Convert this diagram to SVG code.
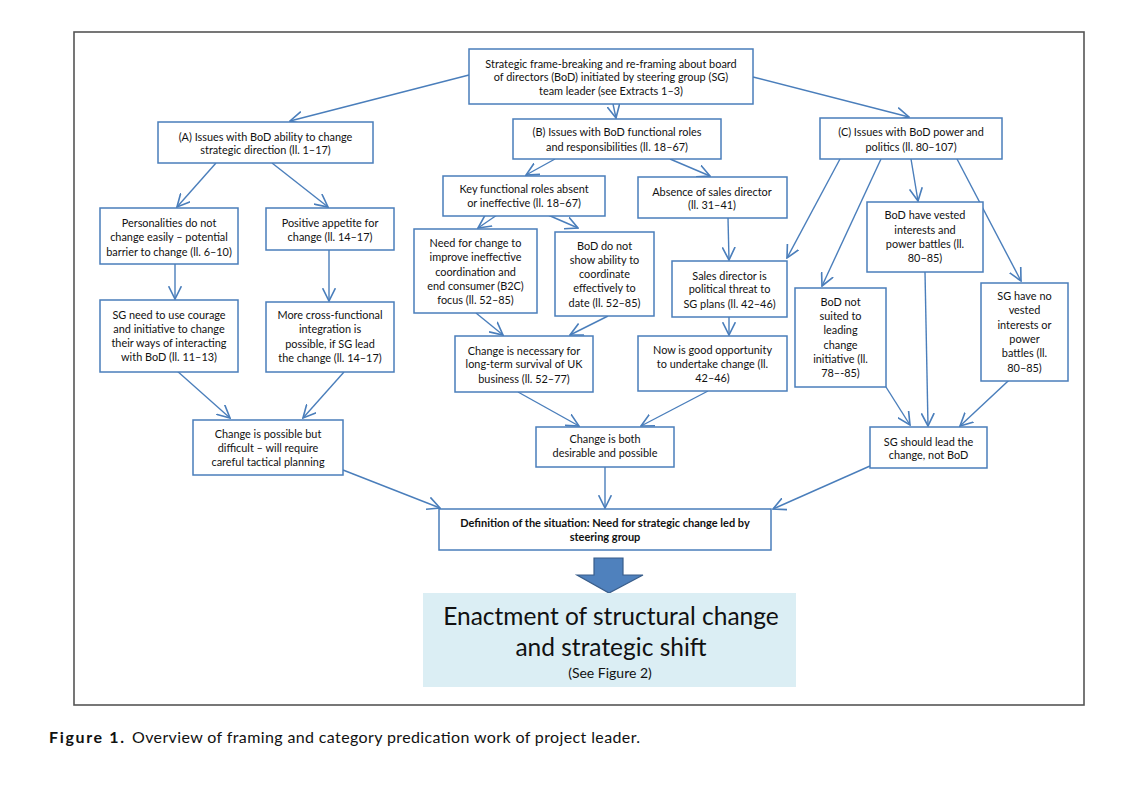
<svg xmlns="http://www.w3.org/2000/svg" width="1121" height="807" viewBox="0 0 1121 807">
<style>
.b{fill:#fff;stroke:#4a7ebb;stroke-width:1.5}
.t{font-family:Lato,"Open Sans","Liberation Sans",sans-serif;font-size:10.9px;fill:#111;text-anchor:middle}
.bd{font-weight:bold;font-size:11px}
.c path{fill:none;stroke:#4a7ebb;stroke-width:1.4;marker-end:url(#ah)}
.cap{font-family:Lato,"Liberation Sans",sans-serif;font-size:16px;fill:#111}
</style>
<defs>
<marker id="ah" markerUnits="userSpaceOnUse" markerWidth="14" markerHeight="14" viewBox="0 0 12 12" refX="11" refY="6" orient="auto">
<path d="M0,0.5 L11,6 L0,11.5" fill="none" stroke="#4a7ebb" stroke-width="1.4"/>
</marker>
</defs>
<rect width="1121" height="807" fill="#fff"/>
<rect x="74" y="32" width="1010" height="673" fill="none" stroke="#555" stroke-width="1.6"/>

<g class="c" id="connectors">
<path d="M469,75 L290,121"/>
<path d="M613,104 L616,118"/>
<path d="M753,77 L909,117"/>
<path d="M216,163 L177,207"/>
<path d="M272,163 L328,207"/>
<path d="M175,264 L175,299"/>
<path d="M329,250 L329,301"/>
<path d="M176,370 L230,418"/>
<path d="M344,372 L303,418"/>
<path d="M555,159 L526,175"/>
<path d="M670,159 L710,176"/>
<path d="M497,215 L478,228"/>
<path d="M548,215 L578,228"/>
<path d="M476,313 L503,335"/>
<path d="M608,316 L570,335"/>
<path d="M728,218 L729,260"/>
<path d="M729,317 L729,335"/>
<path d="M840,159 L787,258"/>
<path d="M881,159 L822,286"/>
<path d="M911,159 L918,201"/>
<path d="M957,159 L1021,281"/>
<path d="M886,387 L910,425"/>
<path d="M925,272 L928,426"/>
<path d="M1021,369 L960,426"/>
<path d="M518,392 L579,426"/>
<path d="M708,391 L641,426"/>
<path d="M605,467 L605,508"/>
<path d="M343,470 L440,508"/>
<path d="M870,466 L773,509"/>
</g>

<g id="n-top"><rect class="b" x="469" y="49" width="284" height="55"/>
<text class="t"><tspan x="611" y="67.5">Strategic frame-breaking and re-framing about board</tspan><tspan x="611" y="81">of directors (BoD) initiated by steering group (SG)</tspan><tspan x="611" y="95">team leader (see Extracts 1–3)</tspan></text></g>

<g id="n-a"><rect class="b" x="158" y="122" width="215" height="41"/>
<text class="t"><tspan x="265.5" y="140.5">(A) Issues with BoD ability to change</tspan><tspan x="265.5" y="154">strategic direction (ll. 1–17)</tspan></text></g>

<g id="n-b"><rect class="b" x="513" y="119" width="208" height="40"/>
<text class="t"><tspan x="617" y="135.5">(B) Issues with BoD functional roles</tspan><tspan x="617" y="150.5">and responsibilities (ll. 18–67)</tspan></text></g>

<g id="n-c"><rect class="b" x="820" y="118" width="182" height="41"/>
<text class="t"><tspan x="911" y="135.5">(C) Issues with BoD power and</tspan><tspan x="911" y="150.5">politics (ll. 80–107)</tspan></text></g>

<g id="n-pers"><rect class="b" x="100" y="208" width="138" height="56"/>
<text class="t"><tspan x="169" y="226.5">Personalities do not</tspan><tspan x="169" y="240.5">change easily – potential</tspan><tspan x="169" y="255.5">barrier to change (ll. 6–10)</tspan></text></g>

<g id="n-pos"><rect class="b" x="266" y="208" width="128" height="42"/>
<text class="t"><tspan x="330" y="226.5">Positive appetite for</tspan><tspan x="330" y="240.5">change (ll. 14–17)</tspan></text></g>

<g id="n-sgneed"><rect class="b" x="100" y="300" width="138" height="72"/>
<text class="t"><tspan x="169" y="318.5">SG need to use courage</tspan><tspan x="169" y="332.5">and initiative to change</tspan><tspan x="169" y="346.5">their ways of interacting</tspan><tspan x="169" y="360.5">with BoD (ll. 11–13)</tspan></text></g>

<g id="n-cross"><rect class="b" x="266" y="302" width="128" height="70"/>
<text class="t"><tspan x="330" y="318.5">More cross-functional</tspan><tspan x="330" y="333">integration is</tspan><tspan x="330" y="347.5">possible, if SG lead</tspan><tspan x="330" y="362">the change (ll. 14–17)</tspan></text></g>

<g id="n-key"><rect class="b" x="443" y="176" width="162" height="40"/>
<text class="t"><tspan x="524" y="192.5">Key functional roles absent</tspan><tspan x="524" y="206.5">or ineffective (ll. 18–67)</tspan></text></g>

<g id="n-absence"><rect class="b" x="638" y="177" width="149" height="41"/>
<text class="t"><tspan x="712" y="195.5">Absence of sales director</tspan><tspan x="712" y="209">(ll. 31–41)</tspan></text></g>

<g id="n-needchange"><rect class="b" x="414" y="229" width="123" height="84"/>
<text class="t"><tspan x="475.5" y="246.5">Need for change to</tspan><tspan x="475.5" y="261">improve ineffective</tspan><tspan x="475.5" y="275.5">coordination and</tspan><tspan x="475.5" y="290">end consumer (B2C)</tspan><tspan x="475.5" y="304">focus (ll. 52–85)</tspan></text></g>

<g id="n-bodnot"><rect class="b" x="555" y="232" width="99" height="84"/>
<text class="t"><tspan x="604.5" y="249.5">BoD do not</tspan><tspan x="604.5" y="263.5">show ability to</tspan><tspan x="604.5" y="277.5">coordinate</tspan><tspan x="604.5" y="291.5">effectively to</tspan><tspan x="604.5" y="306.5">date (ll. 52–85)</tspan></text></g>

<g id="n-salesthreat"><rect class="b" x="672" y="261" width="115" height="56"/>
<text class="t"><tspan x="729.5" y="279.5">Sales director is</tspan><tspan x="729.5" y="293">political threat to</tspan><tspan x="729.5" y="307.5">SG plans (ll. 42–46)</tspan></text></g>

<g id="n-necessary"><rect class="b" x="455" y="336" width="138" height="56"/>
<text class="t"><tspan x="524" y="354.5">Change is necessary for</tspan><tspan x="524" y="368">long-term survival of UK</tspan><tspan x="524" y="382.5">business (ll. 52–77)</tspan></text></g>

<g id="n-now"><rect class="b" x="638" y="336" width="149" height="55"/>
<text class="t"><tspan x="712.5" y="353.5">Now is good opportunity</tspan><tspan x="712.5" y="367.5">to undertake change (ll.</tspan><tspan x="712.5" y="381.5">42–46)</tspan></text></g>

<g id="n-vested"><rect class="b" x="867" y="202" width="116" height="70"/>
<text class="t"><tspan x="925" y="218.5">BoD have vested</tspan><tspan x="925" y="233.5">interests and</tspan><tspan x="925" y="248">power battles (ll.</tspan><tspan x="925" y="262">80–85)</tspan></text></g>

<g id="n-notsuited"><rect class="b" x="795" y="288" width="91" height="99"/>
<text class="t"><tspan x="840.5" y="305.5">BoD not</tspan><tspan x="840.5" y="319.5">suited to</tspan><tspan x="840.5" y="334">leading</tspan><tspan x="840.5" y="348.5">change</tspan><tspan x="840.5" y="362.5">initiative (ll.</tspan><tspan x="840.5" y="377">78–-85)</tspan></text></g>

<g id="n-novested"><rect class="b" x="981" y="283" width="87" height="98"/>
<text class="t"><tspan x="1024.5" y="299.5">SG have no</tspan><tspan x="1024.5" y="314">vested</tspan><tspan x="1024.5" y="328.5">interests or</tspan><tspan x="1024.5" y="342.5">power</tspan><tspan x="1024.5" y="357">battles (ll.</tspan><tspan x="1024.5" y="371.5">80–85)</tspan></text></g>

<g id="n-sglead"><rect class="b" x="870" y="427" width="117" height="41"/>
<text class="t"><tspan x="928.5" y="445.5">SG should lead the</tspan><tspan x="928.5" y="459">change, not BoD</tspan></text></g>

<g id="n-possible"><rect class="b" x="193" y="420" width="150" height="55"/>
<text class="t"><tspan x="268" y="437.5">Change is possible but</tspan><tspan x="268" y="451.5">difficult – will require</tspan><tspan x="268" y="465.5">careful tactical planning</tspan></text></g>

<g id="n-both"><rect class="b" x="536" y="427" width="138" height="40"/>
<text class="t"><tspan x="605" y="442.5">Change is both</tspan><tspan x="605" y="456.5">desirable and possible</tspan></text></g>

<g id="n-definition"><rect class="b" x="439" y="509" width="332" height="41"/>
<text class="t bd"><tspan x="605" y="526.5">Definition of the situation: Need for strategic change led by</tspan><tspan x="605" y="540.5">steering group</tspan></text></g>

<g id="big-arrow"><path d="M594,558 L623,558 L623,575 L643,575 L609,593 L577,575 L594,575 Z" fill="#4f81bd" stroke="#385d8a" stroke-width="1.2"/></g>

<g id="n-enactment"><rect x="423" y="593" width="373" height="94" fill="#dbeef4"/>
<text class="t" style="font-size:24.5px"><tspan x="611" y="625">Enactment of structural change</tspan><tspan x="611" y="656">and strategic shift</tspan></text>
<text class="t" style="font-size:14px" x="610" y="678">(See Figure 2)</text></g>

<text class="cap" y="743"><tspan x="49" font-weight="bold" textLength="75" lengthAdjust="spacing">Figure 1.</tspan><tspan x="132" textLength="508" lengthAdjust="spacing">Overview of framing and category predication work of project leader.</tspan></text>
</svg>
